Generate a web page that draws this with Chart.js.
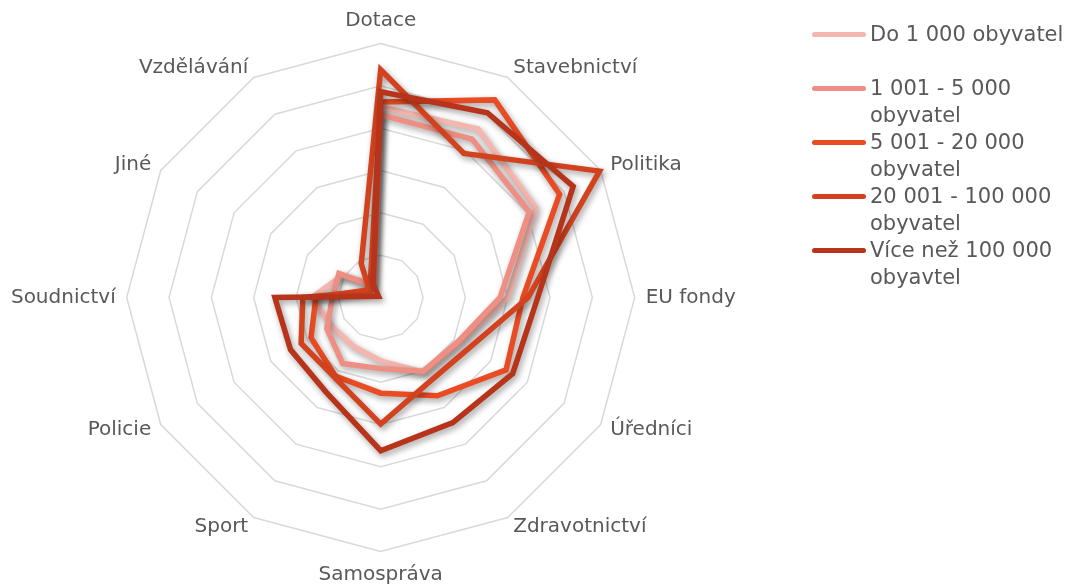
<!DOCTYPE html>
<html lang="cs">
<head>
<meta charset="utf-8">
<title>Radar – obce podle velikosti</title>
<script src="https://cdn.jsdelivr.net/npm/chart.js@4.4.1/dist/chart.umd.min.js"></script>
<style>
  html, body { margin: 0; padding: 0; background: #fff; }
  #wrap { position: relative; width: 1085px; height: 587px; overflow: hidden; }
  #chart { position: absolute; left: 0; top: 0; }
  #legend { position: absolute; left: 812px; top: 21px; font-family: "DejaVu Sans", sans-serif; font-size: 21px; color: #595959; }
  .item { display: flex; height: 54px; }
  .swatch { flex: none; width: 54px; height: 5px; border-radius: 3px; margin: 11px 4px 0 0; }
  .txt { line-height: 27px; white-space: nowrap; }
</style>
</head>
<body>
<div id="wrap">
  <canvas id="chart" width="1085" height="587"></canvas>
  <div id="legend"></div>
</div>
<script>
/* radar: oblasti korupce podle velikosti obce */
var CATEGORIES = ['Dotace', 'Stavebnictví', 'Politika', 'EU fondy', 'Úředníci', 'Zdravotnictví',
  'Samospráva', 'Sport', 'Policie', 'Soudnictví', 'Jiné', 'Vzdělávání'];

// values, scale 0–60
var DO_1000     = [45.0, 46.0, 42.3, 30.0, 21.5, 20.4, 15.0, 13.2, 13.5, 16.2, 10.5, 3.6];
var DO_5000     = [43.2, 43.2, 40.5, 28.2, 21.0, 20.1, 16.8, 18.0, 14.7, 11.4, 11.4, 3.0];
var DO_20000    = [46.2, 53.9, 48.8, 33.6, 34.2, 26.8, 22.6, 21.4, 19.0, 15.3, 3.6, 4.8];
var DO_100000   = [53.8, 39.3, 59.7, 34.8, 24.0, 23.0, 29.9, 21.8, 21.7, 18.4, 3.0, 9.2];
var NAD_100000  = [48.6, 50.4, 52.5, 37.1, 36.0, 34.1, 36.2, 25.8, 24.6, 25.0, 0.6, 3.6];

var SERIES = [DO_1000, DO_5000, DO_20000, DO_100000, NAD_100000];
var SERIES_NAMES = [
  ['Do 1 000 obyvatel'],
  ['1 001 - 5 000', 'obyvatel'],
  ['5 001 - 20 000', 'obyvatel'],
  ['20 001 - 100 000', 'obyvatel'],
  ['Více než 100 000', 'obyavtel']
];
var COLORS = ['#f4b6ae', '#ef8e82', '#e94b22', '#d2421f', '#b7331a'];

var SCALE_MAX = 60, SCALE_STEP = 10;
var CENTER_X = 380.7, CENTER_Y = 297.5, RADIUS = 254, LABEL_PAD = 11;

// pin the radial scale to the reference geometry; labels sit centred beside
// their spoke (Excel style) instead of above/below it
function pinScale(scale) {
  scale.xCenter = CENTER_X;
  scale.yCenter = CENTER_Y;
  scale.drawingArea = RADIUS;
  (scale._pointLabelItems || []).forEach(function (it, i) {
    var a = scale.getIndexAngle(i) - Math.PI / 2;
    var px = CENTER_X + (RADIUS + LABEL_PAD) * Math.cos(a);
    var py = CENTER_Y + (RADIUS + LABEL_PAD) * Math.sin(a);
    var w = it.right - it.left, h = it.bottom - it.top, s = Math.sin(a);
    var top = s < -0.999 ? py - h : (s > 0.999 ? py : py - h / 2);
    var left = it.textAlign === 'left' ? px : (it.textAlign === 'right' ? px - w : px - w / 2);
    it.x = px; it.y = top;
    it.left = left; it.right = left + w;
    it.top = top; it.bottom = top + h;
  });
}

// soft grey drop shadow under every series line, like the original
var lineShadow = {
  id: 'lineShadow',
  beforeDatasetDraw: function (chart) {
    var ctx = chart.ctx;
    ctx.save();
    ctx.shadowColor = 'rgba(0,0,0,0.38)';
    ctx.shadowBlur = 6;
    ctx.shadowOffsetX = 2;
    ctx.shadowOffsetY = 3;
  },
  afterDatasetDraw: function (chart) { chart.ctx.restore(); }
};

function renderLegend() {
  var el = document.getElementById('legend');
  el.innerHTML = SERIES_NAMES.map(function (lines, i) {
    return '<div class="item"><span class="swatch" style="background:' + COLORS[i] + '"></span>' +
      '<div class="txt">' + lines.join('<br>') + '</div></div>';
  }).join('');
}

new Chart(document.getElementById('chart').getContext('2d'), {
  type: 'radar',
  data: {
    labels: CATEGORIES,
    datasets: SERIES.map(function (vals, i) {
      return {
        label: SERIES_NAMES[i].join(' '),
        data: vals,
        borderColor: COLORS[i],
        backgroundColor: COLORS[i],
        borderWidth: 5.5,
        borderJoinStyle: 'miter',
        fill: false,
        tension: 0,
        pointRadius: 0,
        pointHoverRadius: 0,
        order: SERIES.length - i
      };
    })
  },
  options: {
    responsive: false,
    animation: false,
    devicePixelRatio: 1,
    plugins: { legend: { display: false }, tooltip: { enabled: false } },
    scales: {
      r: {
        min: 0, max: SCALE_MAX,
        ticks: { display: false, stepSize: SCALE_STEP },
        grid: { color: '#d9d9d9', lineWidth: 1.5 },
        angleLines: { display: false },
        pointLabels: { color: '#595959', font: { family: 'DejaVu Sans', size: 20 } },
        afterFit: pinScale
      }
    }
  },
  plugins: [lineShadow]
});
renderLegend();
</script>
</body>
</html>
